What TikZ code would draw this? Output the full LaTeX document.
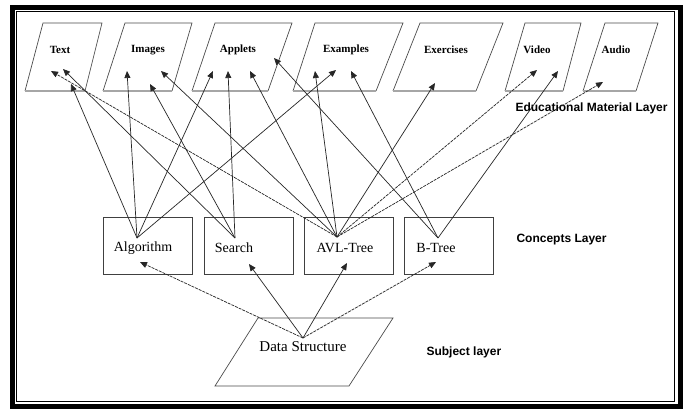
\documentclass[tikz,border=0pt]{standalone}
\usepackage{fontspec}
\setmainfont{Liberation Serif}
\newfontfamily\arialf{Liberation Sans}
\usetikzlibrary{arrows.meta}
\begin{document}
\begin{tikzpicture}[x=1pt,y=-1pt,
  conn/.style={line width=0.7pt, draw=black!85, -{Triangle[length=7pt,width=6pt]}},
  dconn/.style={conn, dash pattern=on 3pt off 1pt},
  para/.style={draw=black!70, line width=0.7pt},
  parabottom/.style={draw=black!35, line width=1.3pt},
  cbox/.style={draw=black!75, line width=0.8pt},
  mlabel/.style={font=\fontsize{11}{13}\selectfont\bfseries},
  clabel/.style={font=\fontsize{14}{16}\selectfont},
  dlabel/.style={font=\fontsize{15}{17}\selectfont},
  layer/.style={font=\arialf\fontsize{12}{14}\selectfont\bfseries, anchor=west}]
\useasboundingbox (0,0) rectangle (686,412);
\fill[white] (0,0) rectangle (686,412);
% frame
\draw[line width=5pt] (12.5,7.3) rectangle (680,406.5);
\draw[line width=1.3pt] (16.7,11.8) rectangle (674.5,401.5);

% educational material parallelograms
\draw[para] (25,91) -- (43,23) -- (102,23) -- (85,91);
\draw[parabottom] (25,91) -- (85,91);
\draw[para] (103,91) -- (125,23) -- (192,23) -- (172,91);
\draw[parabottom] (103,91) -- (172,91);
\draw[para] (192,91) -- (215,23) -- (292,23) -- (268,91);
\draw[parabottom] (192,91) -- (268,91);
\draw[para] (293,91) -- (315,23) -- (403,23) -- (376,91);
\draw[parabottom] (293,91) -- (376,91);
\draw[para] (393,91) -- (420,23) -- (503,23) -- (476,91);
\draw[parabottom] (393,91) -- (476,91);
\draw[para] (505,91) -- (525,23) -- (581,23) -- (563,91);
\draw[parabottom] (505,91) -- (563,91);
\draw[para] (583,91) -- (605,23) -- (658,23) -- (636,91);
\draw[parabottom] (583,91) -- (636,91);

\node[mlabel] (text) at (60,50) {Text};
\node[mlabel] (images) at (148,50) {Images};
\node[mlabel] (applets) at (238,50) {Applets};
\node[mlabel] (examples) at (346,50) {Examples};
\node[mlabel] (exercises) at (446,50) {Exercises};
\node[mlabel] (video) at (537,50) {Video};
\node[mlabel] (audio) at (616,50) {Audio};

% concept boxes
\draw[cbox] (103,217) rectangle (192,274);
\draw[cbox] (204,217) rectangle (293,274);
\draw[cbox] (304,217) rectangle (393,274);
\draw[cbox] (404,217) rectangle (493,274);
\node[clabel] (alg) at (143,248) {Algorithm};
\node[clabel] (search) at (234,248) {Search};
\node[clabel] (avl) at (345,248) {AVL-Tree};
\node[clabel] (btree) at (436,248) {B-Tree};

% subject parallelogram
\draw[para] (258,318) -- (393,318) -- (349,386) -- (215,386) -- cycle;
\node[dlabel] (ds) at (303,347) {Data Structure};

% layer labels
\node[layer] (eml) at (512,108) {Educational Material Layer};
\node[layer] (cl) at (513,240) {Concepts Layer};
\node[layer] (sl) at (423,352) {Subject layer};

% connector end points
\coordinate (algS) at (137,238);
\coordinate (seaS) at (235,238);
\coordinate (avlS) at (337,237);
\coordinate (btS) at (438,238);
\coordinate (dsS) at (303,338);

\coordinate (txt1) at (51,71);
\coordinate (txt2) at (63,69);
\coordinate (txt3) at (71,84);
\coordinate (img1) at (127,71);
\coordinate (img2) at (150,84);
\coordinate (img3) at (161,71);
\coordinate (app1) at (213,71);
\coordinate (app2) at (228,71);
\coordinate (app3) at (250,71);
\coordinate (app4) at (274,58);
\coordinate (exa1) at (315,71);
\coordinate (exa2) at (336,70);
\coordinate (exa3) at (351,71);
\coordinate (exe1) at (435,83);
\coordinate (vid1) at (537,70);
\coordinate (vid2) at (558,71);
\coordinate (aud1) at (603,82);

\coordinate (algT) at (140,262);
\coordinate (seaT) at (249,264);
\coordinate (avlT) at (347,263);
\coordinate (btT) at (436,262);

% concept -> material
\draw[conn] (algS) -- (txt3);
\draw[conn] (algS) -- (img1);
\draw[conn] (algS) -- (app1);
\draw[conn] (algS) -- (exa2);

\draw[conn] (seaS) -- (txt2);
\draw[conn] (seaS) -- (img2);
\draw[conn] (seaS) -- (app2);

\draw[dconn] (avlS) -- (txt1);
\draw[conn] (avlS) -- (img3);
\draw[conn] (avlS) -- (app3);
\draw[conn] (avlS) -- (exa1);
\draw[conn] (avlS) -- (exe1);
\draw[dconn] (avlS) -- (vid1);
\draw[dconn] (avlS) -- (aud1);

\draw[conn] (btS) -- (app4);
\draw[conn] (btS) -- (exa3);
\draw[conn] (btS) -- (vid2);

% subject -> concepts
\draw[dconn] (dsS) -- (algT);
\draw[conn] (dsS) -- (seaT);
\draw[conn] (dsS) -- (avlT);
\draw[dconn] (dsS) -- (btT);
\end{tikzpicture}
\end{document}
